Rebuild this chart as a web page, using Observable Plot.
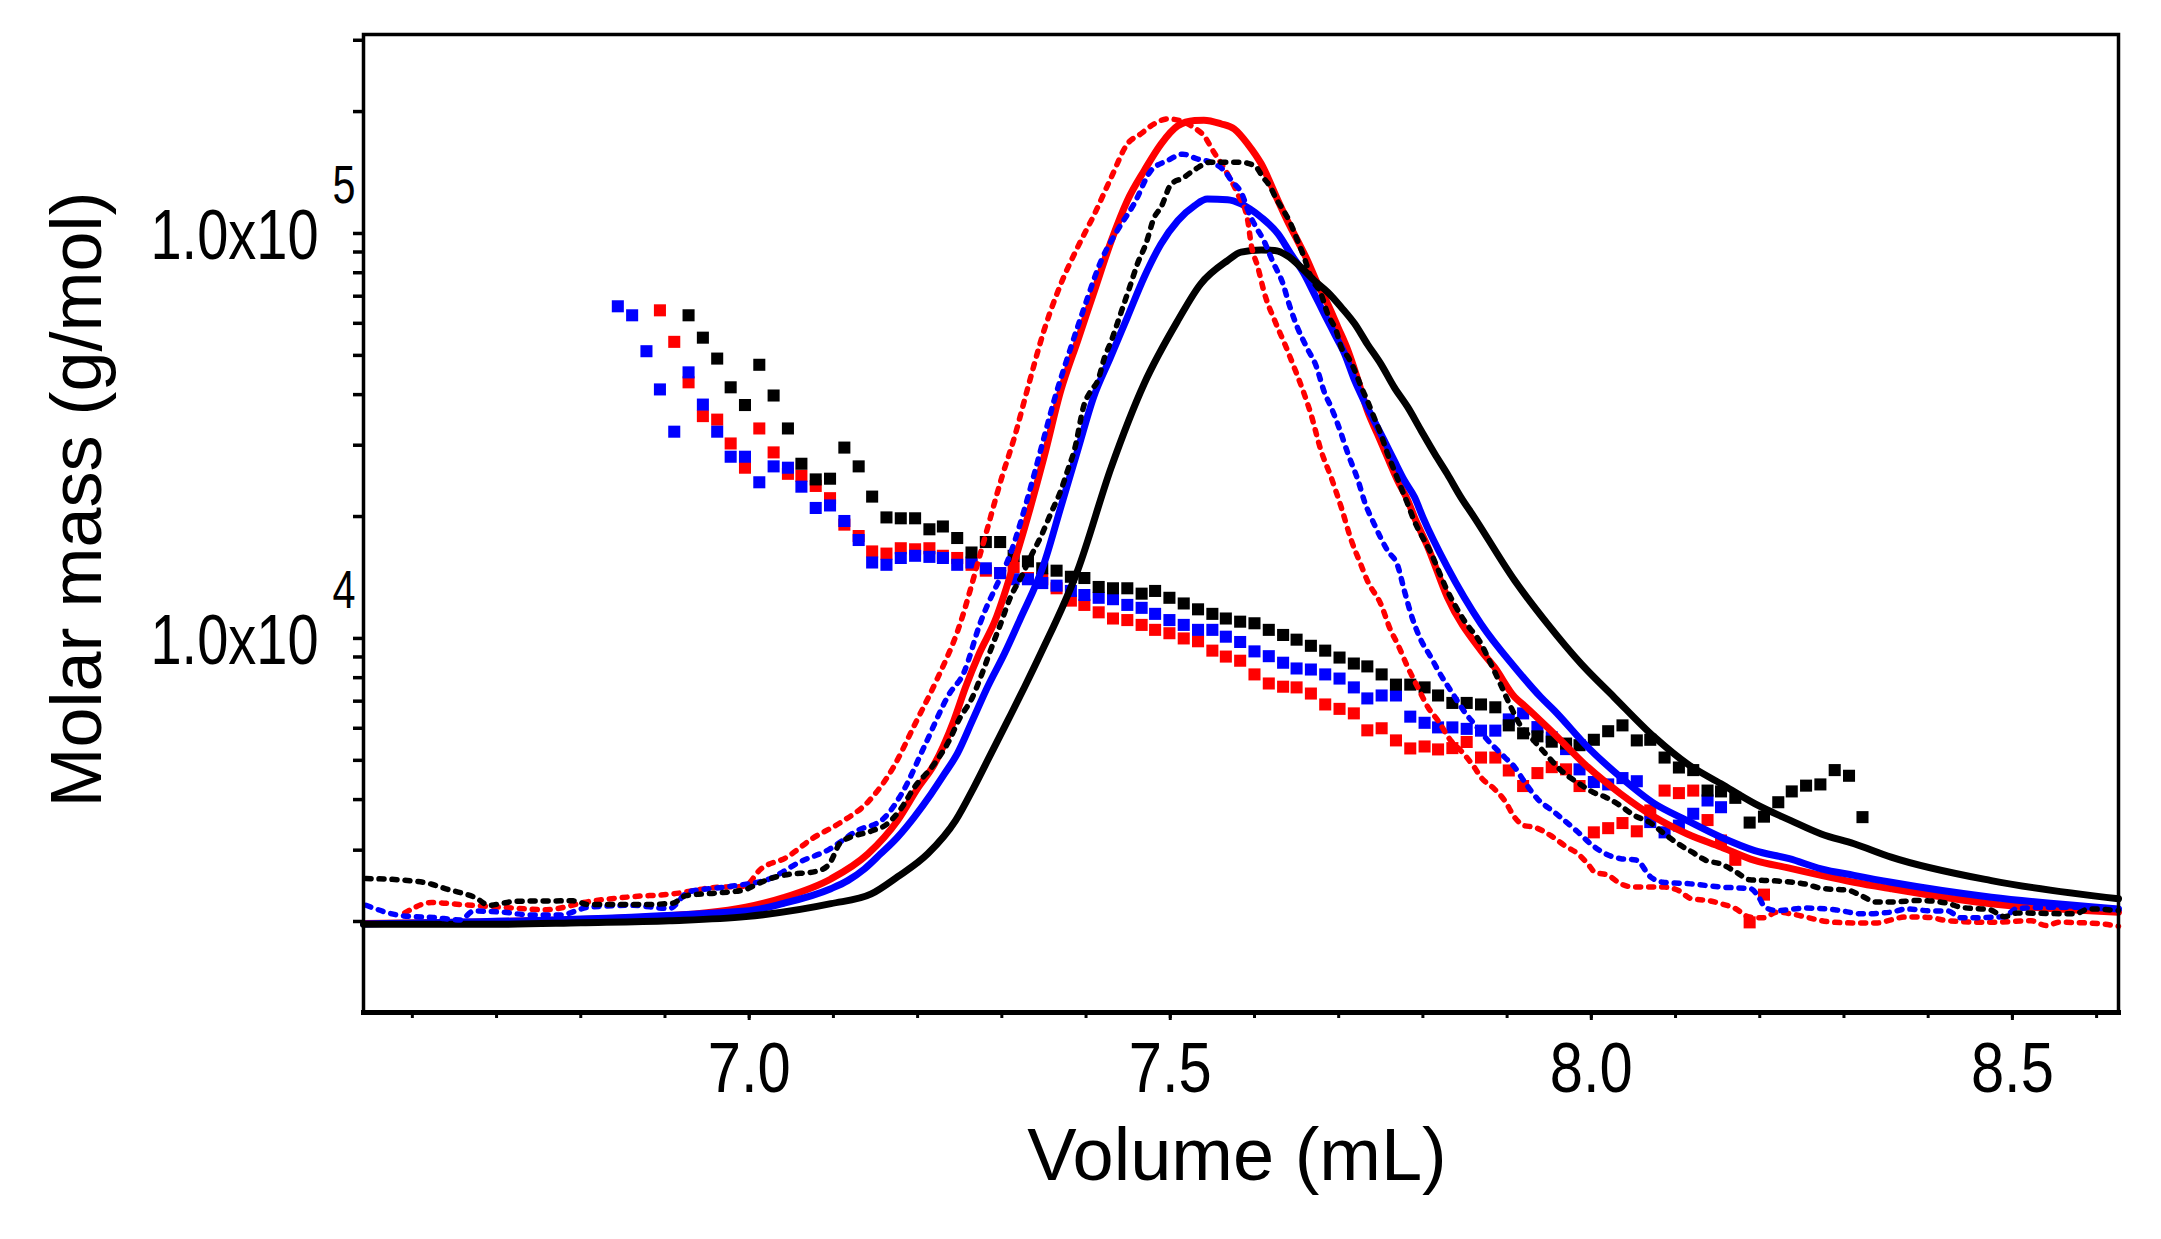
<!DOCTYPE html>
<html>
<head>
<meta charset="utf-8">
<script src="https://cdn.jsdelivr.net/npm/d3@7"></script>
<script src="https://cdn.jsdelivr.net/npm/@observablehq/plot@0.6"></script>
<style>
  body { margin: 0; background: #fff; }
  #chart svg { display: block; }
</style>
</head>
<body>
<div id="chart"></div>
<script>
// axis ticks
const xMajor = [7.0, 7.5, 8.0, 8.5]
const xMinor = [6.6, 6.7, 6.8, 6.9, 7.0, 7.1, 7.2, 7.3, 7.4, 7.5, 7.6, 7.7, 7.8, 7.9, 8.0, 8.1, 8.2, 8.3, 8.4, 8.5, 8.6]
const yMajor = [1e4, 1e5]
const yMinor = [2000, 3000, 4000, 5000, 6000, 7000, 8000, 9000, 10000,
  20000, 30000, 40000, 50000, 60000, 70000, 80000, 90000, 100000, 200000, 300000]

// molar mass points (g/mol), one slice per elution volume
const massVolume = [6.844, 6.861, 6.878, 6.894, 6.911, 6.928, 6.945, 6.962, 6.978, 6.995,
  7.012, 7.029, 7.046, 7.062, 7.079, 7.096, 7.113, 7.130, 7.146, 7.163,
  7.180, 7.197, 7.214, 7.230, 7.247, 7.264, 7.281, 7.298, 7.314, 7.331,
  7.348, 7.365, 7.382, 7.398, 7.415, 7.432, 7.449, 7.466, 7.482, 7.499,
  7.516, 7.533, 7.550, 7.566, 7.583, 7.600, 7.617, 7.634, 7.650, 7.667,
  7.684, 7.701, 7.718, 7.734, 7.751, 7.768, 7.785, 7.802, 7.818, 7.835,
  7.852, 7.869, 7.886, 7.902, 7.919, 7.936, 7.953, 7.970, 7.986, 8.003,
  8.020, 8.037, 8.054, 8.070, 8.087, 8.104, 8.121, 8.138, 8.154, 8.171,
  8.188, 8.205, 8.222, 8.238, 8.255, 8.272, 8.289, 8.306, 8.322]
const massBlue = [66100, 62800, 51200, 41200, 32400, 45400, 37800, 32400, 28100, 28100,
  24300, 26600, 26400, 23700, 21000, 21300, 19500, 17500, 15400, 15200,
  15800, 16000, 15900, 15800, 15200, 15400, 14900, 14500, 14000, 14000,
  13700, 13500, 13100, 12800, 12600, 12500, 12100, 11900, 11500, 11100,
  10800, 10500, 10500, 10100, 9800, 9290, 9040, 8710, 8430, 8380,
  8150, 7960, 7570, 7110, 7230, 7230, 6410, 6190, 6030, 6030,
  5980, 5920, 5920, 6310, 6530, 6040, 5700, 5330, 4750, 4420,
  4360, 4520, 4440, 3520, 3320, 3450, 3690, 3980, 3830, null,
  null, null, null, null, null, null, null, null, null]
const massRed = [null, null, null, 64600, 54000, 42900, 35400, 34700, 30300, 26400,
  33000, 28800, 25500, 25200, 23800, 22200, 19100, 17900, 16400, 16200,
  16700, 16600, 16700, 16000, 15800, 15200, 14700, 14500, 15000, 14100,
  14000, 13300, 12400, 12100, 11600, 11200, 11100, 10800, 10500, 10300,
  10000, 9840, 9330, 9020, 8810, 8150, 7740, 7600, 7570, 7310,
  6870, 6700, 6530, 5930, 6000, 5600, 5350, 5410, 5320, 5360,
  5550, 5080, 5080, 4720, 4320, 4650, 4810, 4750, 4320, 3320,
  3400, 3500, 3340, 3760, 4210, 4150, 4210, 3560, 3170, 2840,
  1990, 2330, null, null, null, null, null, null, null]
const massBlack = [null, null, null, null, null, 62800, 55300, 49100, 41700, 37700,
  47400, 39800, 33000, 27000, 24700, 24800, 29600, 26600, 22400, 19900,
  19800, 19800, 18600, 18900, 17700, 16300, 17300, 17300, 16000, 15500,
  14900, 14700, 14200, 14100, 13400, 13300, 13300, 12900, 13100, 12600,
  12200, 11800, 11500, 11200, 11000, 10900, 10500, 10200, 9930, 9590,
  9330, 8970, 8670, 8530, 8150, 7690, 7690, 7570, 7230, 6930,
  6930, 6870, 6760, 6100, 5830, 5730, 5560, 5500, 5450, 5620,
  5900, 6100, 5600, 5620, 5080, 4800, 4730, 4210, 4190, 4040,
  3510, 3630, 3940, 4190, 4330, 4360, 4730, 4580, 3620]

// detector traces, [volume mL, value on the same log axis]
const solidBlack = [[6.542, 1968], [6.700, 1968], [6.800, 1986], [6.905, 2009], [6.996, 2056], [7.097, 2213],
  [7.145, 2339], [7.176, 2576], [7.212, 2938], [7.245, 3548], [7.267, 4295], [7.287, 5188], [7.307, 6266],
  [7.327, 7586], [7.346, 9162], [7.390, 14720], [7.430, 26490], [7.469, 42560], [7.509, 60950],
  [7.536, 74990], [7.568, 85700], [7.584, 89950], [7.608, 91000], [7.624, 90780], [7.639, 88100], [7.655, 82600],
  [7.671, 76560], [7.687, 71610], [7.703, 65770], [7.719, 59840], [7.734, 53330], [7.750, 47640], [7.766, 41690],
  [7.782, 37240], [7.798, 32580], [7.814, 28580], [7.829, 25470], [7.845, 22340], [7.861, 19910], [7.909, 13900],
  [7.948, 10860], [7.988, 8650], [8.027, 7161], [8.075, 5702], [8.114, 4898], [8.154, 4375], [8.194, 3908],
  [8.237, 3548], [8.273, 3289], [8.312, 3112], [8.356, 2884], [8.475, 2523], [8.626, 2275]]
const solidRed = [[6.542, 1977], [6.887, 2056], [6.996, 2168], [7.041, 2291], [7.097, 2547], [7.141, 2938],
  [7.176, 3548], [7.201, 4295], [7.220, 4898], [7.243, 6266], [7.257, 7586], [7.273, 9162], [7.292, 11070],
  [7.319, 16480], [7.350, 27990], [7.370, 40930], [7.390, 54330], [7.410, 72280], [7.430, 95940], [7.449, 120500],
  [7.469, 142900], [7.489, 166300], [7.509, 184500], [7.529, 190100], [7.540, 190500], [7.560, 186600],
  [7.576, 181100], [7.592, 166300], [7.608, 148600], [7.628, 120500], [7.639, 107600], [7.651, 96160],
  [7.663, 85700], [7.675, 74990], [7.687, 66990], [7.699, 58750], [7.711, 51400], [7.723, 43350], [7.734, 36560],
  [7.746, 31990], [7.758, 27990], [7.770, 24550], [7.782, 21930], [7.790, 19910], [7.806, 16790], [7.829, 12650],
  [7.869, 9333], [7.885, 8492], [7.909, 7161], [7.920, 6839], [7.956, 5808], [7.996, 4808], [8.035, 4130],
  [8.075, 3622], [8.114, 3289], [8.154, 3055], [8.194, 2831], [8.235, 2710], [8.273, 2600], [8.312, 2500],
  [8.356, 2410], [8.475, 2213], [8.626, 2109]]
const solidBlue = [[6.542, 1972], [6.996, 2123], [7.041, 2218], [7.097, 2410], [7.117, 2523], [7.137, 2698],
  [7.156, 2938], [7.176, 3228], [7.196, 3622], [7.216, 4130], [7.232, 4634], [7.247, 5188], [7.265, 6266],
  [7.283, 7586], [7.303, 9162], [7.321, 11070], [7.350, 15280], [7.370, 21090], [7.390, 29110], [7.409, 39450],
  [7.429, 49430], [7.449, 62090], [7.469, 77980], [7.489, 94190], [7.509, 107600], [7.529, 117200],
  [7.544, 121600], [7.568, 121100], [7.584, 118300], [7.608, 109600], [7.628, 99770], [7.643, 89130],
  [7.659, 79430], [7.671, 70960], [7.683, 63240], [7.695, 56490], [7.707, 50470], [7.719, 43350], [7.730, 38640],
  [7.742, 34510], [7.754, 30830], [7.766, 27480], [7.778, 24550], [7.790, 22340], [7.800, 19910], [7.829, 15000],
  [7.869, 10860], [7.909, 8492], [7.940, 7161], [7.956, 6637], [7.996, 5383], [8.035, 4539], [8.075, 3908],
  [8.114, 3548], [8.154, 3228], [8.194, 2992], [8.235, 2858], [8.273, 2698], [8.312, 2600], [8.356, 2500],
  [8.475, 2296], [8.626, 2148]]
const dottedRed = [[6.591, 2099], [6.623, 2228], [6.657, 2203], [6.707, 2168], [6.759, 2138], [6.809, 2239],
  [6.859, 2301], [6.909, 2339], [6.959, 2427], [6.994, 2443], [7.014, 2698], [7.044, 2877], [7.075, 3206],
  [7.109, 3516], [7.141, 3945], [7.171, 4797], [7.196, 6095], [7.223, 7925], [7.248, 10500], [7.277, 16900],
  [7.300, 25000], [7.315, 31410], [7.331, 41690], [7.350, 57540], [7.370, 74990], [7.390, 92470], [7.410, 111700],
  [7.430, 137700], [7.449, 166300], [7.465, 176200], [7.481, 186600], [7.497, 191900], [7.538, 176200],
  [7.552, 158500], [7.568, 140300], [7.580, 125300], [7.592, 107600], [7.596, 94190], [7.604, 82600],
  [7.612, 70960], [7.624, 60950], [7.636, 53330], [7.647, 46770], [7.659, 40180], [7.667, 35810], [7.679, 29110],
  [7.691, 25000], [7.703, 21090], [7.715, 17460], [7.726, 15280], [7.734, 13900], [7.750, 12160], [7.762, 10440],
  [7.770, 9683], [7.782, 8492], [7.794, 7568], [7.806, 6761], [7.818, 6266], [7.833, 5598], [7.845, 5284],
  [7.861, 4808], [7.869, 4539], [7.885, 4246], [7.897, 3981], [7.909, 3614], [7.920, 3451], [7.932, 3420],
  [7.952, 3258], [7.968, 3083], [7.984, 2938], [7.996, 2773], [8.004, 2649], [8.020, 2600], [8.035, 2477],
  [8.051, 2432], [8.087, 2432], [8.103, 2388], [8.119, 2275], [8.138, 2254], [8.154, 2213], [8.170, 2158],
  [8.188, 2051], [8.204, 2042], [8.221, 2109], [8.237, 2089], [8.255, 2051], [8.273, 2009], [8.289, 1991],
  [8.322, 1982], [8.338, 1982], [8.356, 2018], [8.372, 2051], [8.390, 2051], [8.405, 2042], [8.423, 2009],
  [8.473, 1991], [8.522, 2009], [8.540, 1954], [8.556, 1991], [8.591, 1982], [8.607, 1972], [8.626, 1945]]
const dottedBlue = [[6.545, 2193], [6.589, 2065], [6.625, 2046], [6.657, 2018], [6.673, 2123], [6.707, 2109],
  [6.741, 2075], [6.775, 2075], [6.809, 2168], [6.859, 2193], [6.905, 2153], [6.928, 2366], [6.978, 2443],
  [7.025, 2553], [7.059, 2799], [7.094, 3006], [7.128, 3350], [7.159, 3581], [7.182, 4169], [7.209, 5470],
  [7.237, 7261], [7.255, 8241], [7.273, 10720], [7.315, 17300], [7.331, 22340], [7.346, 29110], [7.362, 38640],
  [7.382, 52360], [7.398, 65770], [7.418, 85700], [7.437, 101600], [7.457, 118300], [7.477, 142900],
  [7.497, 151400], [7.515, 157000], [7.532, 152800], [7.548, 150000], [7.564, 142900], [7.574, 134000],
  [7.584, 126500], [7.594, 111700], [7.602, 103500], [7.610, 97050], [7.622, 84920], [7.634, 74990],
  [7.641, 66990], [7.651, 58610], [7.663, 51880], [7.673, 47210], [7.683, 40550], [7.691, 37240], [7.701, 32890],
  [7.711, 28580], [7.723, 24550], [7.731, 21680], [7.742, 19190], [7.758, 16480], [7.770, 15140], [7.778, 13120],
  [7.786, 11460], [7.797, 9977], [7.810, 8954], [7.818, 8337], [7.835, 7328], [7.851, 6516], [7.861, 6152],
  [7.879, 5546], [7.897, 5093], [7.909, 4808], [7.919, 4477], [7.936, 4018], [7.956, 3724], [7.984, 3327],
  [7.999, 3112], [8.017, 2938], [8.035, 2858], [8.053, 2838], [8.071, 2570], [8.085, 2500], [8.118, 2477],
  [8.154, 2432], [8.189, 2410], [8.200, 2275], [8.206, 2168], [8.221, 2128], [8.255, 2158], [8.289, 2138],
  [8.322, 2089], [8.356, 2109], [8.374, 2148], [8.405, 2123], [8.423, 2123], [8.439, 2042], [8.491, 2056],
  [8.504, 2148], [8.540, 2168], [8.591, 2168], [8.626, 2148]]
const dottedBlack = [[6.545, 2553], [6.591, 2529], [6.623, 2472], [6.641, 2404], [6.659, 2350], [6.675, 2291],
  [6.691, 2193], [6.707, 2218], [6.723, 2244], [6.791, 2249], [6.809, 2203], [6.875, 2203], [6.909, 2218],
  [6.925, 2317], [6.959, 2350], [6.994, 2393], [7.009, 2472], [7.028, 2564], [7.046, 2612], [7.078, 2655],
  [7.094, 2754], [7.109, 3141], [7.146, 3350], [7.162, 3459], [7.180, 3793], [7.196, 4285], [7.218, 4842],
  [7.237, 5572], [7.250, 6353], [7.264, 7079], [7.277, 8241], [7.287, 9397], [7.300, 11070], [7.309, 12470],
  [7.323, 14190], [7.336, 16180], [7.346, 17780], [7.358, 20320], [7.370, 23170], [7.378, 25940], [7.386, 29110],
  [7.398, 37930], [7.406, 40930], [7.414, 43350], [7.422, 49430], [7.430, 54330], [7.437, 59840], [7.445, 66990],
  [7.453, 74990], [7.461, 84140], [7.471, 94190], [7.481, 109600], [7.489, 116100], [7.501, 132400],
  [7.515, 137100], [7.530, 144200], [7.548, 150000], [7.564, 150000], [7.582, 150000], [7.600, 147200],
  [7.610, 137700], [7.618, 131200], [7.626, 121600], [7.632, 116100], [7.643, 105700], [7.651, 96160],
  [7.659, 87300], [7.667, 77980], [7.679, 70960], [7.687, 63240], [7.697, 57540], [7.703, 52360], [7.711, 49550],
  [7.719, 45920], [7.727, 41690], [7.734, 38640], [7.742, 35160], [7.750, 31990], [7.758, 28580], [7.766, 26000],
  [7.774, 23600], [7.782, 21480], [7.788, 19910], [7.810, 16180], [7.829, 13120], [7.849, 11070], [7.869, 9705],
  [7.879, 8810], [7.891, 7798], [7.903, 6871], [7.917, 6039], [7.928, 5702], [7.944, 5236],
  [7.964, 4721], [7.986, 4375], [8.002, 4169], [8.017, 4055], [8.033, 3882], [8.051, 3656], [8.069, 3516],
  [8.087, 3289], [8.103, 3112], [8.120, 2965], [8.136, 2831], [8.154, 2773], [8.172, 2649], [8.188, 2535],
  [8.221, 2518], [8.255, 2472], [8.273, 2415], [8.305, 2388], [8.322, 2307], [8.338, 2234], [8.356, 2234],
  [8.390, 2254], [8.423, 2218], [8.439, 2168], [8.473, 2138], [8.491, 2056], [8.506, 2099], [8.574, 2089],
  [8.591, 2148], [8.626, 2128]]

const RED = "#ff0000", BLUE = "#0000ff", BLACK = "#000000"

const squares = (values, color) =>
  Plot.dot(massVolume, {x: d => d, y: (d, i) => values[i], symbol: "square", r: 6.8, fill: color})
const solid = (data, color) =>
  Plot.line(data, {x: d => d[0], y: d => d[1], stroke: color, strokeWidth: 7, curve: "monotone-x"})
const dotted = (data, color) =>
  Plot.line(data, {x: d => d[0], y: d => d[1], stroke: color, strokeWidth: 5.5, strokeDasharray: "5,8", curve: "monotone-x"})

const chart = Plot.plot({
  width: 2161,
  height: 1239,
  marginLeft: 363,
  marginRight: 43,
  marginTop: 34,
  marginBottom: 227,
  style: {
    background: "#fff",
    color: "#000",
    fontFamily: "'Liberation Sans', Arial, Helvetica, sans-serif"
  },
  x: {domain: [6.542, 8.626]},
  y: {type: "log", domain: [1192, 310000]},
  marks: [
    squares(massRed, RED),
    squares(massBlue, BLUE),
    squares(massBlack, BLACK),
    solid(solidRed, RED),
    solid(solidBlue, BLUE),
    solid(solidBlack, BLACK),
    dotted(dottedRed, RED),
    dotted(dottedBlue, BLUE),
    dotted(dottedBlack, BLACK),
    Plot.axisX({ticks: xMinor, tickSize: 6, strokeWidth: 3, tickFormat: () => "", label: null}),
    Plot.axisX({ticks: xMajor, tickSize: 8, strokeWidth: 3, tickPadding: 21, fontSize: 71,
      tickFormat: d => d.toFixed(1), label: null}),
    Plot.axisY({ticks: yMinor, tickSize: 10, strokeWidth: 3.5, tickFormat: () => "", label: null}),
    Plot.text(yMajor, {y: d => d, frameAnchor: "left", textAnchor: "end", lineAnchor: "bottom",
      dx: -45, dy: 26, fontSize: 70, text: () => "1.0x10"}),
    Plot.text(yMajor, {y: d => d, frameAnchor: "left", textAnchor: "start", lineAnchor: "bottom",
      dx: -31, dy: -30, fontSize: 53, text: d => String(Math.round(Math.log10(d)))}),
    Plot.text(["Volume (mL)"], {frameAnchor: "bottom", lineAnchor: "bottom", dx: -4, dy: 167,
      fontSize: 74, text: d => d}),
    Plot.text(["Molar mass (g/mol)"], {frameAnchor: "left", rotate: -90, textAnchor: "middle", lineAnchor: "bottom",
      dx: -263, dy: -24, fontSize: 72, text: d => d}),
    Plot.frame({stroke: "black", strokeWidth: 3.5}),
    Plot.frame({anchor: "bottom", stroke: "black", strokeWidth: 5})
  ]
})

d3.select("#chart").append(() => chart)

// the original lettering is a narrow face: squeeze the numbers to its widths
d3.select(chart).selectAll("text").each(function() {
  const t = this.textContent
  if (t === "") { d3.select(this).remove(); return }
  let w = null
  if (t === "1.0x10") w = 168
  else if (t === "4" || t === "5") w = 23
  else if (["7.0", "7.5", "8.0", "8.5"].includes(t)) w = 83
  if (w) d3.select(this).attr("textLength", w).attr("lengthAdjust", "spacingAndGlyphs")
})
</script>
</body>
</html>
